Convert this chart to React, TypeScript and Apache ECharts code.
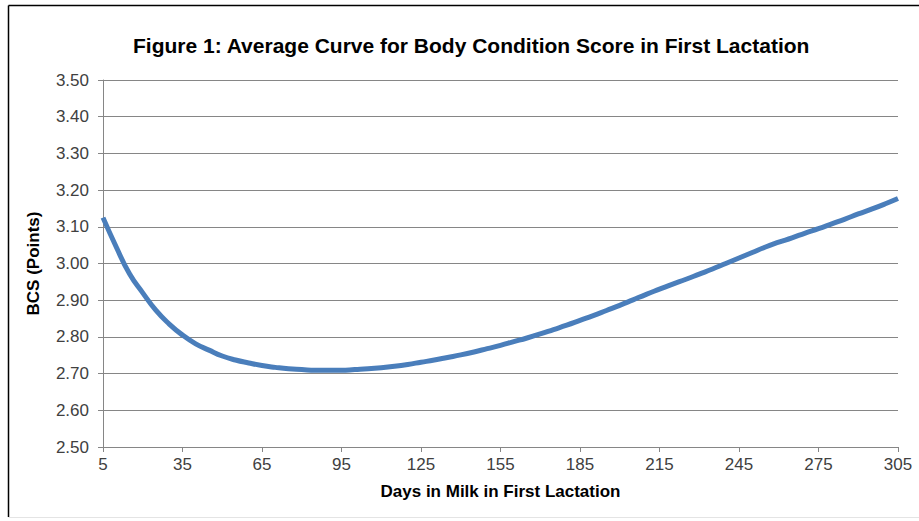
import React, { useEffect, useRef } from "react";
import * as echarts from "echarts";

const days: string[] = [
  "5", "10", "15", "20", "25", "30", "35", "40", "45", "50", "55", "60", "65", "70", "75", "80",
  "85", "90", "95", "100", "105", "110", "115", "120", "125", "130", "135", "140", "145", "150",
  "155", "160", "165", "170", "175", "180", "185", "190", "195", "200", "205", "210", "215", "220",
  "225", "230", "235", "240", "245", "250", "255", "260", "265", "270", "275", "280", "285", "290",
  "295", "300", "305",
];

const bcs: number[] = [
  3.125, 3.045, 2.972, 2.92, 2.872, 2.835, 2.805, 2.781, 2.764, 2.748, 2.737, 2.729, 2.722, 2.717,
  2.713, 2.711, 2.709, 2.709, 2.709, 2.711, 2.713, 2.716, 2.72, 2.725, 2.731, 2.737, 2.744, 2.751,
  2.759, 2.768, 2.777, 2.787, 2.797, 2.808, 2.82, 2.832, 2.845, 2.858, 2.872, 2.886, 2.901, 2.916,
  2.93, 2.944, 2.957, 2.971, 2.985, 3.0, 3.015, 3.03, 3.045, 3.058, 3.07, 3.083, 3.095, 3.108,
  3.121, 3.135, 3.148, 3.162, 3.177,
];

const titleText = "Figure 1: Average Curve for Body Condition Score in First Lactation";
const xName = "Days in Milk in First Lactation";
const yName = "BCS (Points)";

export default function App() {
  const ref = useRef<HTMLDivElement>(null);
  useEffect(() => {
    if (!ref.current) return;
    const chart = echarts.init(ref.current, undefined, { renderer: "svg" });
    const font = "'Liberation Sans', Arial, sans-serif";
    chart.setOption({
      animation: false,
      backgroundColor: "#ffffff",
      title: {
        text: titleText,
        left: 128,
        top: 30,
        textStyle: { fontFamily: font, fontSize: 21, fontWeight: "bold", color: "#000000" },
      },
      grid: { left: 103, right: 21, top: 80, bottom: 74, containLabel: false },
      xAxis: {
        type: "category",
        data: days,
        boundaryGap: false,
        name: xName,
        nameLocation: "middle",
        nameGap: 36,
        nameTextStyle: { fontFamily: font, fontSize: 17, fontWeight: "bold", color: "#000000" },
        axisLine: { lineStyle: { color: "#868686", width: 1 } },
        axisTick: { show: true, interval: 5, length: 5, inside: false, lineStyle: { color: "#868686" } },
        axisLabel: { interval: 5, margin: 9, fontFamily: font, fontSize: 17, color: "#404040" },
        splitLine: { show: false },
      },
      yAxis: {
        type: "value",
        min: 2.5,
        max: 3.5,
        interval: 0.1,
        name: yName,
        nameLocation: "middle",
        nameGap: 61,
        nameRotate: 90,
        nameTextStyle: { fontFamily: font, fontSize: 17, fontWeight: "bold", color: "#000000" },
        axisLine: { show: true, lineStyle: { color: "#868686", width: 1 } },
        axisTick: { show: true, length: 5, lineStyle: { color: "#868686" } },
        axisLabel: {
          margin: 14,
          fontFamily: font,
          fontSize: 17,
          color: "#404040",
          formatter: (v: number) => v.toFixed(2),
        },
        splitLine: { show: true, lineStyle: { color: "#868686", width: 1 } },
      },
      series: [
        {
          type: "line",
          data: bcs,
          smooth: true,
          showSymbol: false,
          symbol: "none",
          lineStyle: { color: "#4a7ebb", width: 5 },
        },
      ],
      graphic: [
        { type: "line", shape: { x1: 8.5, y1: 5.5, x2: 919, y2: 5.5 }, style: { stroke: "#000000", lineWidth: 1.5 } },
        { type: "line", shape: { x1: 8.5, y1: 5.5, x2: 8.5, y2: 517 }, style: { stroke: "#000000", lineWidth: 1.5 } },
        { type: "line", shape: { x1: 8.5, y1: 517.5, x2: 919, y2: 517.5 }, style: { stroke: "#e4e4e4", lineWidth: 1 } },
      ],
    });
    return () => chart.dispose();
  }, []);
  return (
    <div
      ref={ref}
      style={{ position: "absolute", left: 0, top: 0, width: 919, height: 521 }}
    />
  );
}
